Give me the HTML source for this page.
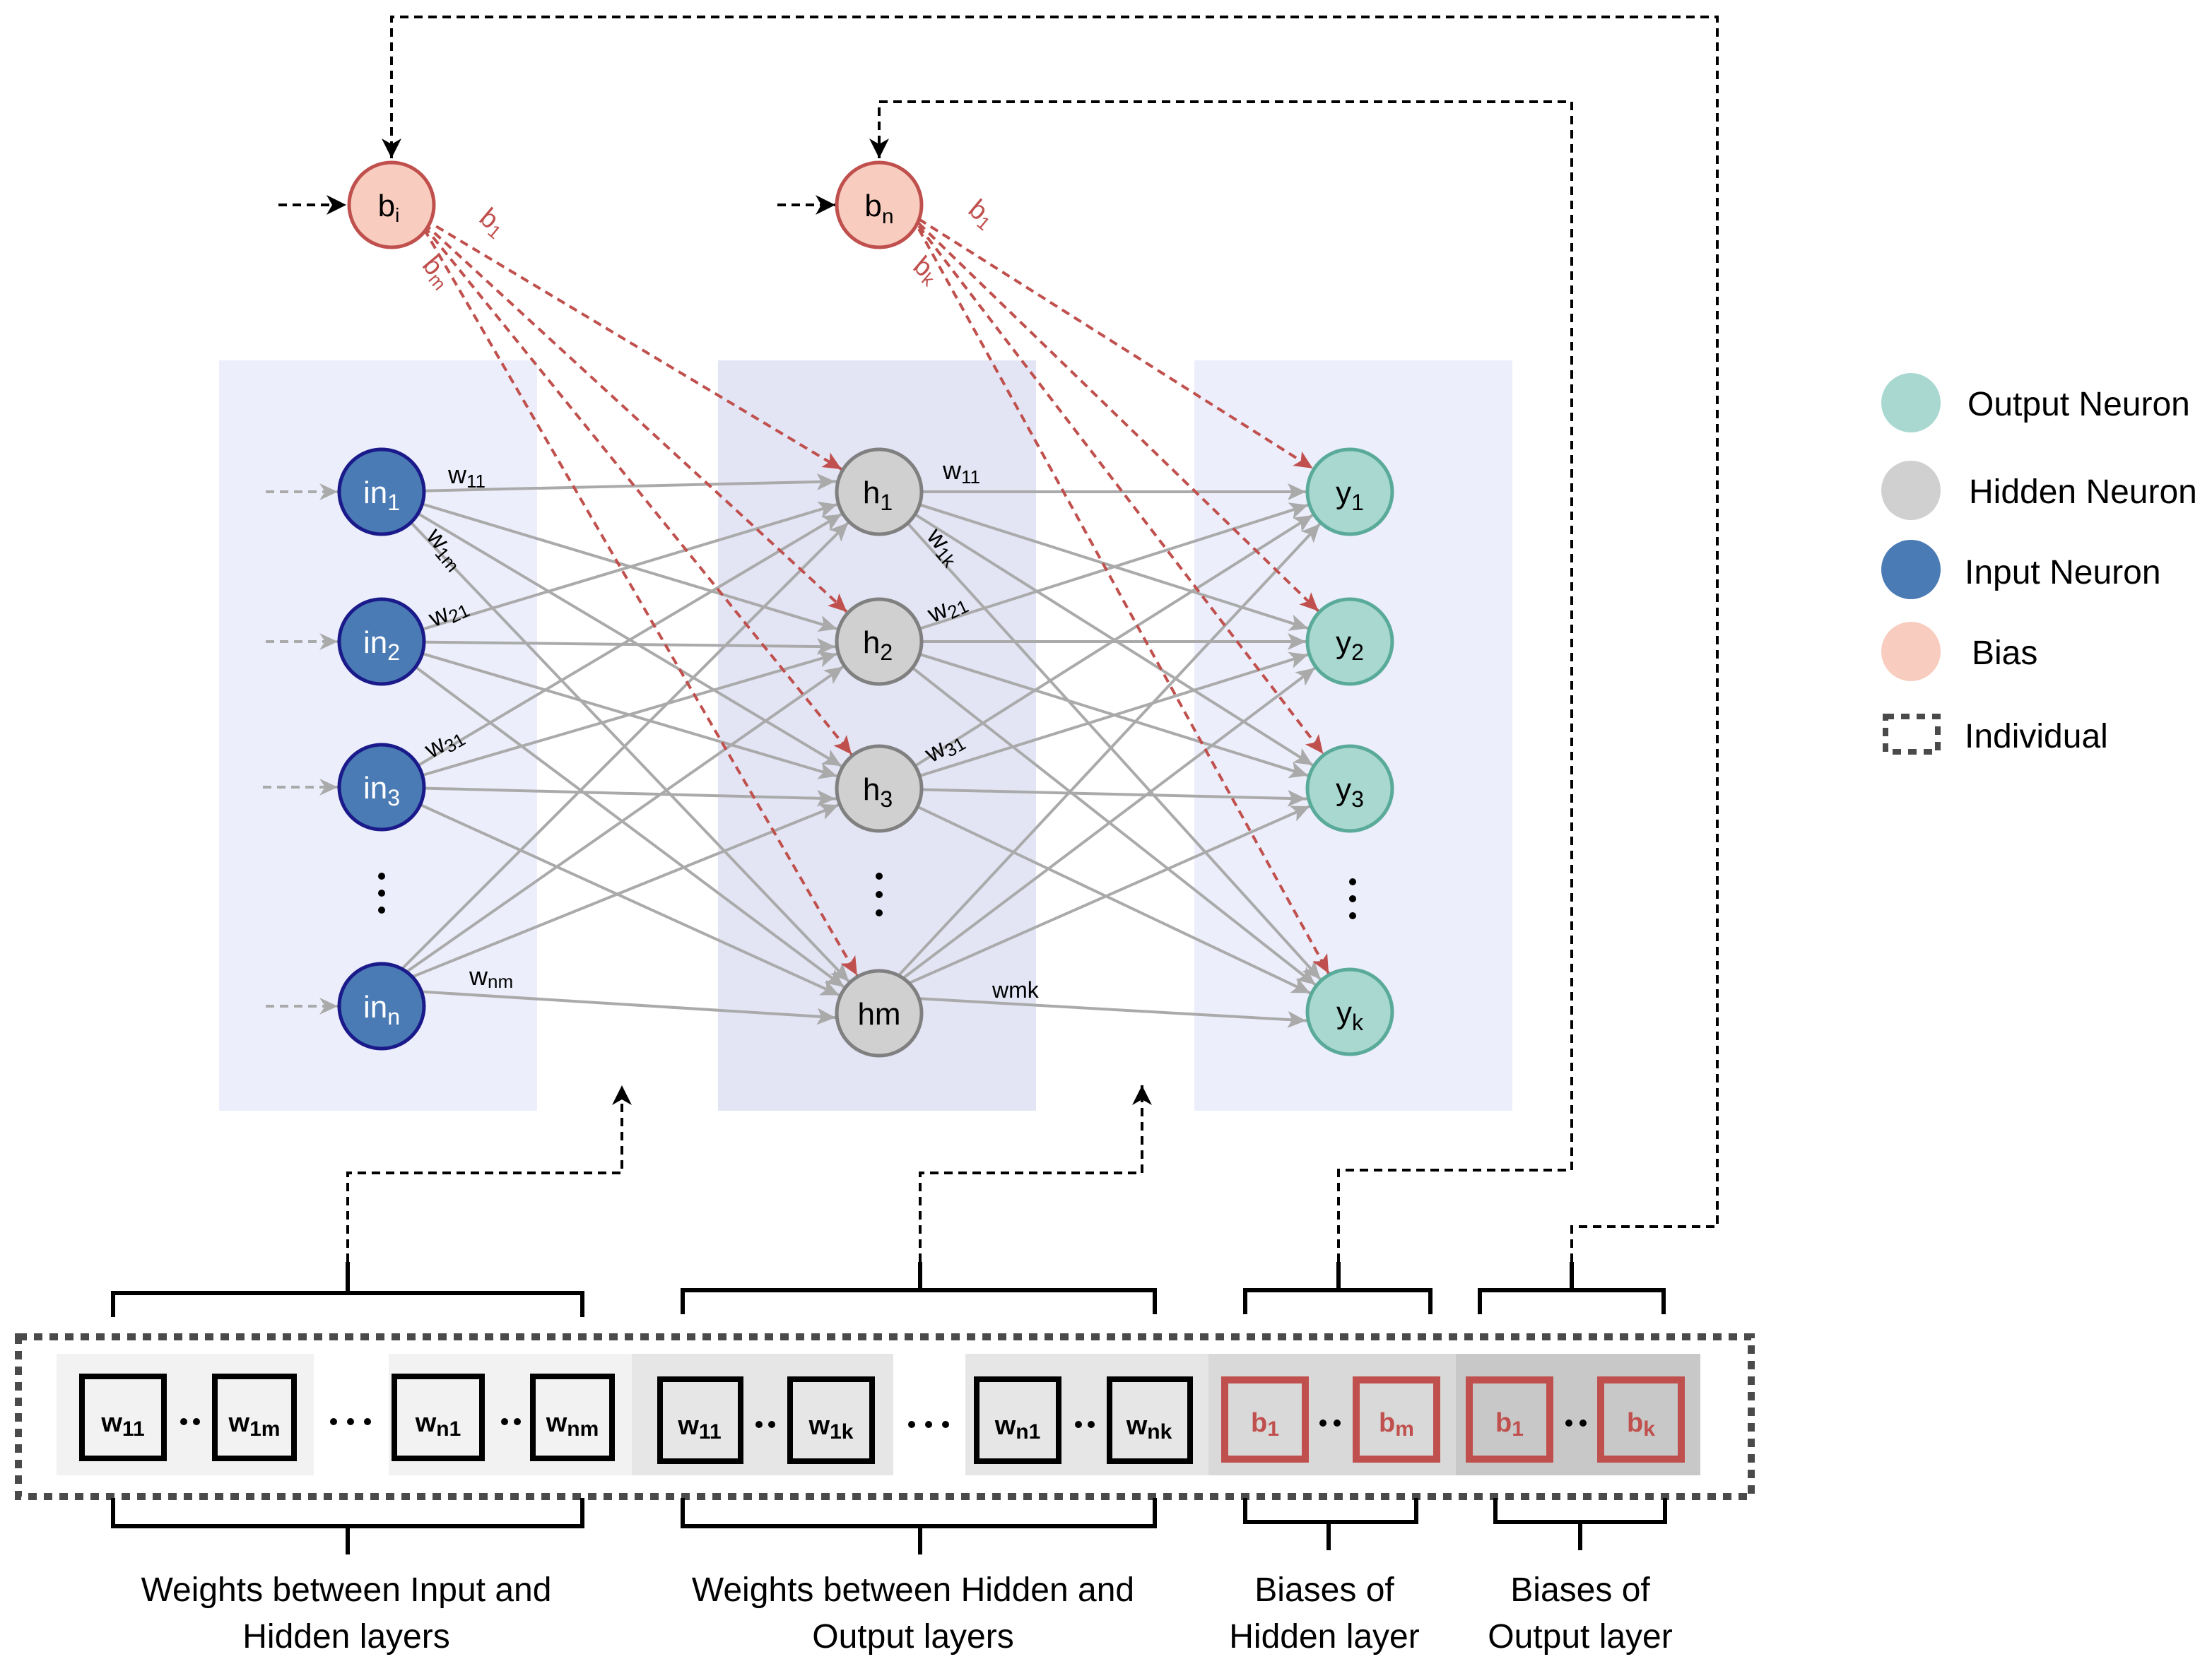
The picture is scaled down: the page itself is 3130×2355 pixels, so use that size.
<!DOCTYPE html>
<html><head><meta charset="utf-8"><style>html,body{margin:0;padding:0;background:#fff}svg{display:block}text{font-family:"Liberation Sans",sans-serif}</style></head><body>
<svg width="3130" height="2355" viewBox="0 0 1565 1177.5" xmlns="http://www.w3.org/2000/svg">
<defs>
<marker id="ag" markerUnits="userSpaceOnUse" viewBox="-50 -10 60 20" refX="0" refY="0" markerWidth="60" markerHeight="20" orient="auto"><path d="M-44,-6 L-31,0 L-44,6 L-41,0 Z" fill="#aaa"/></marker>
<marker id="ar" markerUnits="userSpaceOnUse" viewBox="-50 -10 60 20" refX="0" refY="0" markerWidth="60" markerHeight="20" orient="auto"><path d="M-44,-6 L-31,0 L-44,6 L-41,0 Z" fill="#c0504d"/></marker>
<marker id="ab" markerUnits="userSpaceOnUse" viewBox="-16 -8 18 16" refX="0" refY="0" markerWidth="18" markerHeight="16" orient="auto"><path d="M-14,-7 L0,0 L-14,7 L-10,0 Z" fill="#000"/></marker>
<marker id="ag2" markerUnits="userSpaceOnUse" viewBox="-16 -8 18 16" refX="0" refY="0" markerWidth="18" markerHeight="16" orient="auto"><path d="M-13,-6 L0,0 L-13,6 L-9,0 Z" fill="#aaa"/></marker>
</defs>
<rect x="155" y="255" width="225" height="531" fill="#eceefb"/>
<rect x="508" y="255" width="225" height="531" fill="#e3e5f5"/>
<rect x="845" y="255" width="225" height="531" fill="#eceefb"/>
<g stroke="#aaa" stroke-width="2" marker-end="url(#ag)">
<line x1="270" y1="348" x2="622" y2="340"/><line x1="270" y1="348" x2="622" y2="454"/><line x1="270" y1="348" x2="622" y2="558"/><line x1="270" y1="348" x2="622" y2="717"/>
<line x1="270" y1="454" x2="622" y2="348"/><line x1="270" y1="454" x2="622" y2="458"/><line x1="270" y1="454" x2="622" y2="558"/><line x1="270" y1="454" x2="622" y2="717"/>
<line x1="270" y1="557" x2="622" y2="348"/><line x1="270" y1="557" x2="622" y2="454"/><line x1="270" y1="557" x2="622" y2="566"/><line x1="270" y1="557" x2="622" y2="717"/>
<line x1="270" y1="700" x2="622" y2="348"/><line x1="270" y1="700" x2="622" y2="454"/><line x1="270" y1="700" x2="622" y2="558"/><line x1="270" y1="700" x2="622" y2="722"/>
<line x1="622" y1="348" x2="955" y2="348"/><line x1="622" y1="348" x2="955" y2="454"/><line x1="622" y1="348" x2="955" y2="558"/><line x1="622" y1="348" x2="955" y2="716"/>
<line x1="622" y1="454" x2="955" y2="348"/><line x1="622" y1="454" x2="955" y2="454"/><line x1="622" y1="454" x2="955" y2="558"/><line x1="622" y1="454" x2="955" y2="716"/>
<line x1="622" y1="558" x2="955" y2="348"/><line x1="622" y1="558" x2="955" y2="454"/><line x1="622" y1="558" x2="955" y2="566"/><line x1="622" y1="558" x2="955" y2="716"/>
<line x1="622" y1="705" x2="955" y2="348"/><line x1="622" y1="705" x2="955" y2="454"/><line x1="622" y1="705" x2="955" y2="558"/><line x1="622" y1="705" x2="955" y2="724"/>
</g>
<g stroke="#aaa" stroke-width="2" stroke-dasharray="6,4" marker-end="url(#ag2)">
<line x1="188" y1="348" x2="239" y2="348"/><line x1="188" y1="454" x2="239" y2="454"/><line x1="186" y1="557" x2="239" y2="557"/><line x1="188" y1="712" x2="239" y2="712"/>
</g>
<g stroke="#c0504d" stroke-width="2" stroke-dasharray="6,4" fill="none" marker-end="url(#ar)">
<line x1="300" y1="155" x2="622" y2="348"/><line x1="300" y1="158" x2="622" y2="454"/><line x1="300" y1="160" x2="622" y2="558"/><line x1="300" y1="162" x2="622" y2="717"/>
<line x1="650" y1="155" x2="955" y2="348"/><line x1="650" y1="158" x2="955" y2="454"/><line x1="650" y1="160" x2="955" y2="558"/><line x1="650" y1="162" x2="955" y2="716"/>
</g>
<g stroke="#000" stroke-width="2" stroke-dasharray="6,4" fill="none">
<line x1="197" y1="145" x2="245" y2="145" marker-end="url(#ab)"/>
<line x1="550" y1="145" x2="591" y2="145" marker-end="url(#ab)"/>
<polyline points="1112,893 1112,868 1215,868 1215,12 277,12 277,112" marker-end="url(#ab)"/>
<polyline points="947,893 947,828 1112,828 1112,72 622,72 622,112" marker-end="url(#ab)"/>
<polyline points="246,893 246,830 440,830 440,768" marker-end="url(#ab)"/>
<polyline points="651,893 651,830 808,830 808,768" marker-end="url(#ab)"/>
</g>
<g stroke-width="2.5">
<circle cx="277" cy="145" r="30" fill="#f8cdbf" stroke="#c0504d"/>
<circle cx="622" cy="145" r="30" fill="#f8cdbf" stroke="#c0504d"/>
<g fill="#4a7bb5" stroke="#1a1a8a"><circle cx="270" cy="348" r="30"/><circle cx="270" cy="454" r="30"/><circle cx="270" cy="557" r="30"/><circle cx="270" cy="712" r="30"/></g>
<g fill="#d0d0d0" stroke="#808080"><circle cx="622" cy="348" r="30"/><circle cx="622" cy="454" r="30"/><circle cx="622" cy="558" r="30"/><circle cx="622" cy="717" r="30"/></g>
<g fill="#a8d8d0" stroke="#5aaa9a"><circle cx="955" cy="348" r="30"/><circle cx="955" cy="454" r="30"/><circle cx="955" cy="558" r="30"/><circle cx="955" cy="716" r="30"/></g>
</g>
<g font-size="22" text-anchor="middle">
<text x="275" y="153">b<tspan font-size="14" dy="4">i</tspan></text>
<text x="622" y="153">b<tspan font-size="15" dy="5">n</tspan></text>
<g fill="#fff"><text x="270" y="356">in<tspan font-size="16" dy="5">1</tspan></text><text x="270" y="462">in<tspan font-size="16" dy="5">2</tspan></text><text x="270" y="565">in<tspan font-size="16" dy="5">3</tspan></text><text x="270" y="720">in<tspan font-size="16" dy="5">n</tspan></text></g>
<text x="621" y="356">h<tspan font-size="16" dy="5">1</tspan></text><text x="621" y="462">h<tspan font-size="16" dy="5">2</tspan></text><text x="621" y="566">h<tspan font-size="16" dy="5">3</tspan></text><text x="622" y="725">hm</text>
<text x="955" y="356">y<tspan font-size="16" dy="5">1</tspan></text><text x="955" y="462">y<tspan font-size="16" dy="5">2</tspan></text><text x="955" y="566">y<tspan font-size="16" dy="5">3</tspan></text><text x="955" y="724">y<tspan font-size="16" dy="5">k</tspan></text>
</g>
<g fill="#000"><circle cx="270" cy="620" r="2.5"/><circle cx="270" cy="632" r="2.5"/><circle cx="270" cy="644" r="2.5"/>
<circle cx="622" cy="620" r="2.5"/><circle cx="622" cy="633" r="2.5"/><circle cx="622" cy="646" r="2.5"/>
<circle cx="957" cy="624" r="2.5"/><circle cx="957" cy="636" r="2.5"/><circle cx="957" cy="648" r="2.5"/></g>
<g font-size="18">
<text x="317" y="342">w<tspan font-size="13" dy="3">11</tspan></text>
<text x="667" y="339">w<tspan font-size="13" dy="3">11</tspan></text>
<text x="301" y="380" transform="rotate(50 301 380)">w<tspan font-size="13" dy="3">1m</tspan></text>
<text x="655" y="380" transform="rotate(50 655 380)">w<tspan font-size="13" dy="3">1k</tspan></text>
<text x="307" y="444" transform="rotate(-25 307 444)">w<tspan font-size="13" dy="3">21</tspan></text>
<text x="660" y="441" transform="rotate(-25 660 441)">w<tspan font-size="13" dy="3">21</tspan></text>
<text x="305" y="537" transform="rotate(-30 305 537)">w<tspan font-size="13" dy="3">31</tspan></text>
<text x="659" y="540" transform="rotate(-30 659 540)">w<tspan font-size="13" dy="3">31</tspan></text>
<text x="332" y="697">w<tspan font-size="13" dy="2">nm</tspan></text>
<text x="702" y="706" font-size="16">wmk</text>
</g>
<g font-size="19" fill="#c0504d">
<text x="338" y="156" transform="rotate(40 338 156)">b<tspan font-size="13" dy="3">1</tspan></text>
<text x="684" y="150" transform="rotate(40 684 150)">b<tspan font-size="13" dy="3">1</tspan></text>
<text x="298" y="188" transform="rotate(50 298 188)">b<tspan font-size="13" dy="3">m</tspan></text>
<text x="645" y="190" transform="rotate(40 645 190)">b<tspan font-size="13" dy="3">k</tspan></text>
</g>
<circle cx="1352" cy="285" r="21" fill="#a8d8d0"/><circle cx="1352" cy="347" r="21" fill="#d0d0d0"/><circle cx="1352" cy="403" r="21" fill="#4a7bb5"/><circle cx="1352" cy="461" r="21" fill="#f8cdbf"/>
<rect x="1334" y="507" width="37" height="25" fill="none" stroke="#4a4a4a" stroke-width="4" stroke-dasharray="6,5"/>
<g font-size="24"><text x="1392" y="294">Output Neuron</text><text x="1393" y="356">Hidden Neuron</text><text x="1390" y="413">Input Neuron</text><text x="1395" y="470">Bias</text><text x="1390" y="529">Individual</text></g>
<rect x="40" y="958" width="182" height="86" fill="#f2f2f2"/>
<rect x="275" y="958" width="172" height="86" fill="#f2f2f2"/>
<rect x="447" y="958" width="185" height="86" fill="#e6e6e6"/>
<rect x="683" y="958" width="172" height="86" fill="#e6e6e6"/>
<rect x="855" y="958" width="175" height="86" fill="#d9d9d9"/>
<rect x="1030" y="958" width="173" height="86" fill="#c8c8c8"/>
<rect x="13" y="946" width="1226" height="113" fill="none" stroke="#4a4a4a" stroke-width="5" stroke-dasharray="6,5"/>
<g fill="none" stroke="#000" stroke-width="4">
<rect x="58" y="974" width="58" height="58"/><rect x="152" y="974" width="56" height="58"/><rect x="279" y="974" width="62" height="58"/><rect x="377" y="974" width="56" height="58"/>
<rect x="467" y="976" width="57" height="58"/><rect x="559" y="976" width="58" height="58"/><rect x="691" y="976" width="58" height="58"/><rect x="785" y="976" width="57" height="58"/>
</g>
<g fill="none" stroke="#c0504d" stroke-width="5">
<rect x="866.5" y="976.5" width="57" height="56"/><rect x="959.5" y="976.5" width="57" height="56"/><rect x="1039.5" y="976.5" width="57" height="56"/><rect x="1132.5" y="976.5" width="57" height="56"/>
</g>
<g font-size="19" font-weight="bold" text-anchor="middle">
<text x="87" y="1013">w<tspan font-size="15" dy="3">11</tspan></text><text x="180" y="1013">w<tspan font-size="15" dy="3">1m</tspan></text><text x="310" y="1013">w<tspan font-size="15" dy="3">n1</tspan></text><text x="405" y="1013">w<tspan font-size="15" dy="3">nm</tspan></text>
<text x="495" y="1015">w<tspan font-size="15" dy="3">11</tspan></text><text x="588" y="1015">w<tspan font-size="15" dy="3">1k</tspan></text><text x="720" y="1015">w<tspan font-size="15" dy="3">n1</tspan></text><text x="813" y="1015">w<tspan font-size="15" dy="3">nk</tspan></text>
<g fill="#c0504d"><text x="895" y="1013">b<tspan font-size="15" dy="3">1</tspan></text><text x="988" y="1013">b<tspan font-size="15" dy="3">m</tspan></text><text x="1068" y="1013">b<tspan font-size="15" dy="3">1</tspan></text><text x="1161" y="1013">b<tspan font-size="15" dy="3">k</tspan></text></g>
</g>
<g fill="#000">
<circle cx="130" cy="1006" r="2.5"/><circle cx="139" cy="1006" r="2.5"/>
<circle cx="236" cy="1006" r="2.5"/><circle cx="248" cy="1006" r="2.5"/><circle cx="260" cy="1006" r="2.5"/>
<circle cx="357" cy="1006" r="2.5"/><circle cx="366" cy="1006" r="2.5"/>
<circle cx="537" cy="1008" r="2.5"/><circle cx="546" cy="1008" r="2.5"/>
<circle cx="645" cy="1008" r="2.5"/><circle cx="657" cy="1008" r="2.5"/><circle cx="669" cy="1008" r="2.5"/>
<circle cx="763" cy="1008" r="2.5"/><circle cx="772" cy="1008" r="2.5"/>
<circle cx="936" cy="1007" r="2.5"/><circle cx="946" cy="1007" r="2.5"/>
<circle cx="1110" cy="1007" r="2.5"/><circle cx="1120" cy="1007" r="2.5"/>
</g>
<g fill="none" stroke="#000" stroke-width="3">
<polyline points="80,932 80,915 412,915 412,932"/><line x1="246" y1="915" x2="246" y2="893"/>
<polyline points="483,930 483,913 817,913 817,930"/><line x1="651" y1="913" x2="651" y2="893"/>
<polyline points="881,930 881,913 1012,913 1012,930"/><line x1="947" y1="913" x2="947" y2="893"/>
<polyline points="1047,930 1047,913 1177,913 1177,930"/><line x1="1112" y1="913" x2="1112" y2="893"/>
<polyline points="80,1060 80,1080 412,1080 412,1060"/><line x1="246" y1="1080" x2="246" y2="1100"/>
<polyline points="483,1060 483,1080 817,1080 817,1060"/><line x1="651" y1="1080" x2="651" y2="1100"/>
<polyline points="881,1060 881,1077 1002,1077 1002,1060"/><line x1="940" y1="1077" x2="940" y2="1097"/>
<polyline points="1058,1060 1058,1077 1178,1077 1178,1060"/><line x1="1118" y1="1077" x2="1118" y2="1097"/>
</g>
<g font-size="24" text-anchor="middle">
<text x="245" y="1133">Weights between Input and</text><text x="245" y="1166">Hidden layers</text>
<text x="646" y="1133">Weights between Hidden and</text><text x="646" y="1166">Output layers</text>
<text x="937" y="1133">Biases of</text><text x="937" y="1166">Hidden layer</text>
<text x="1118" y="1133">Biases of</text><text x="1118" y="1166">Output layer</text>
</g>
</svg>
</body></html>
